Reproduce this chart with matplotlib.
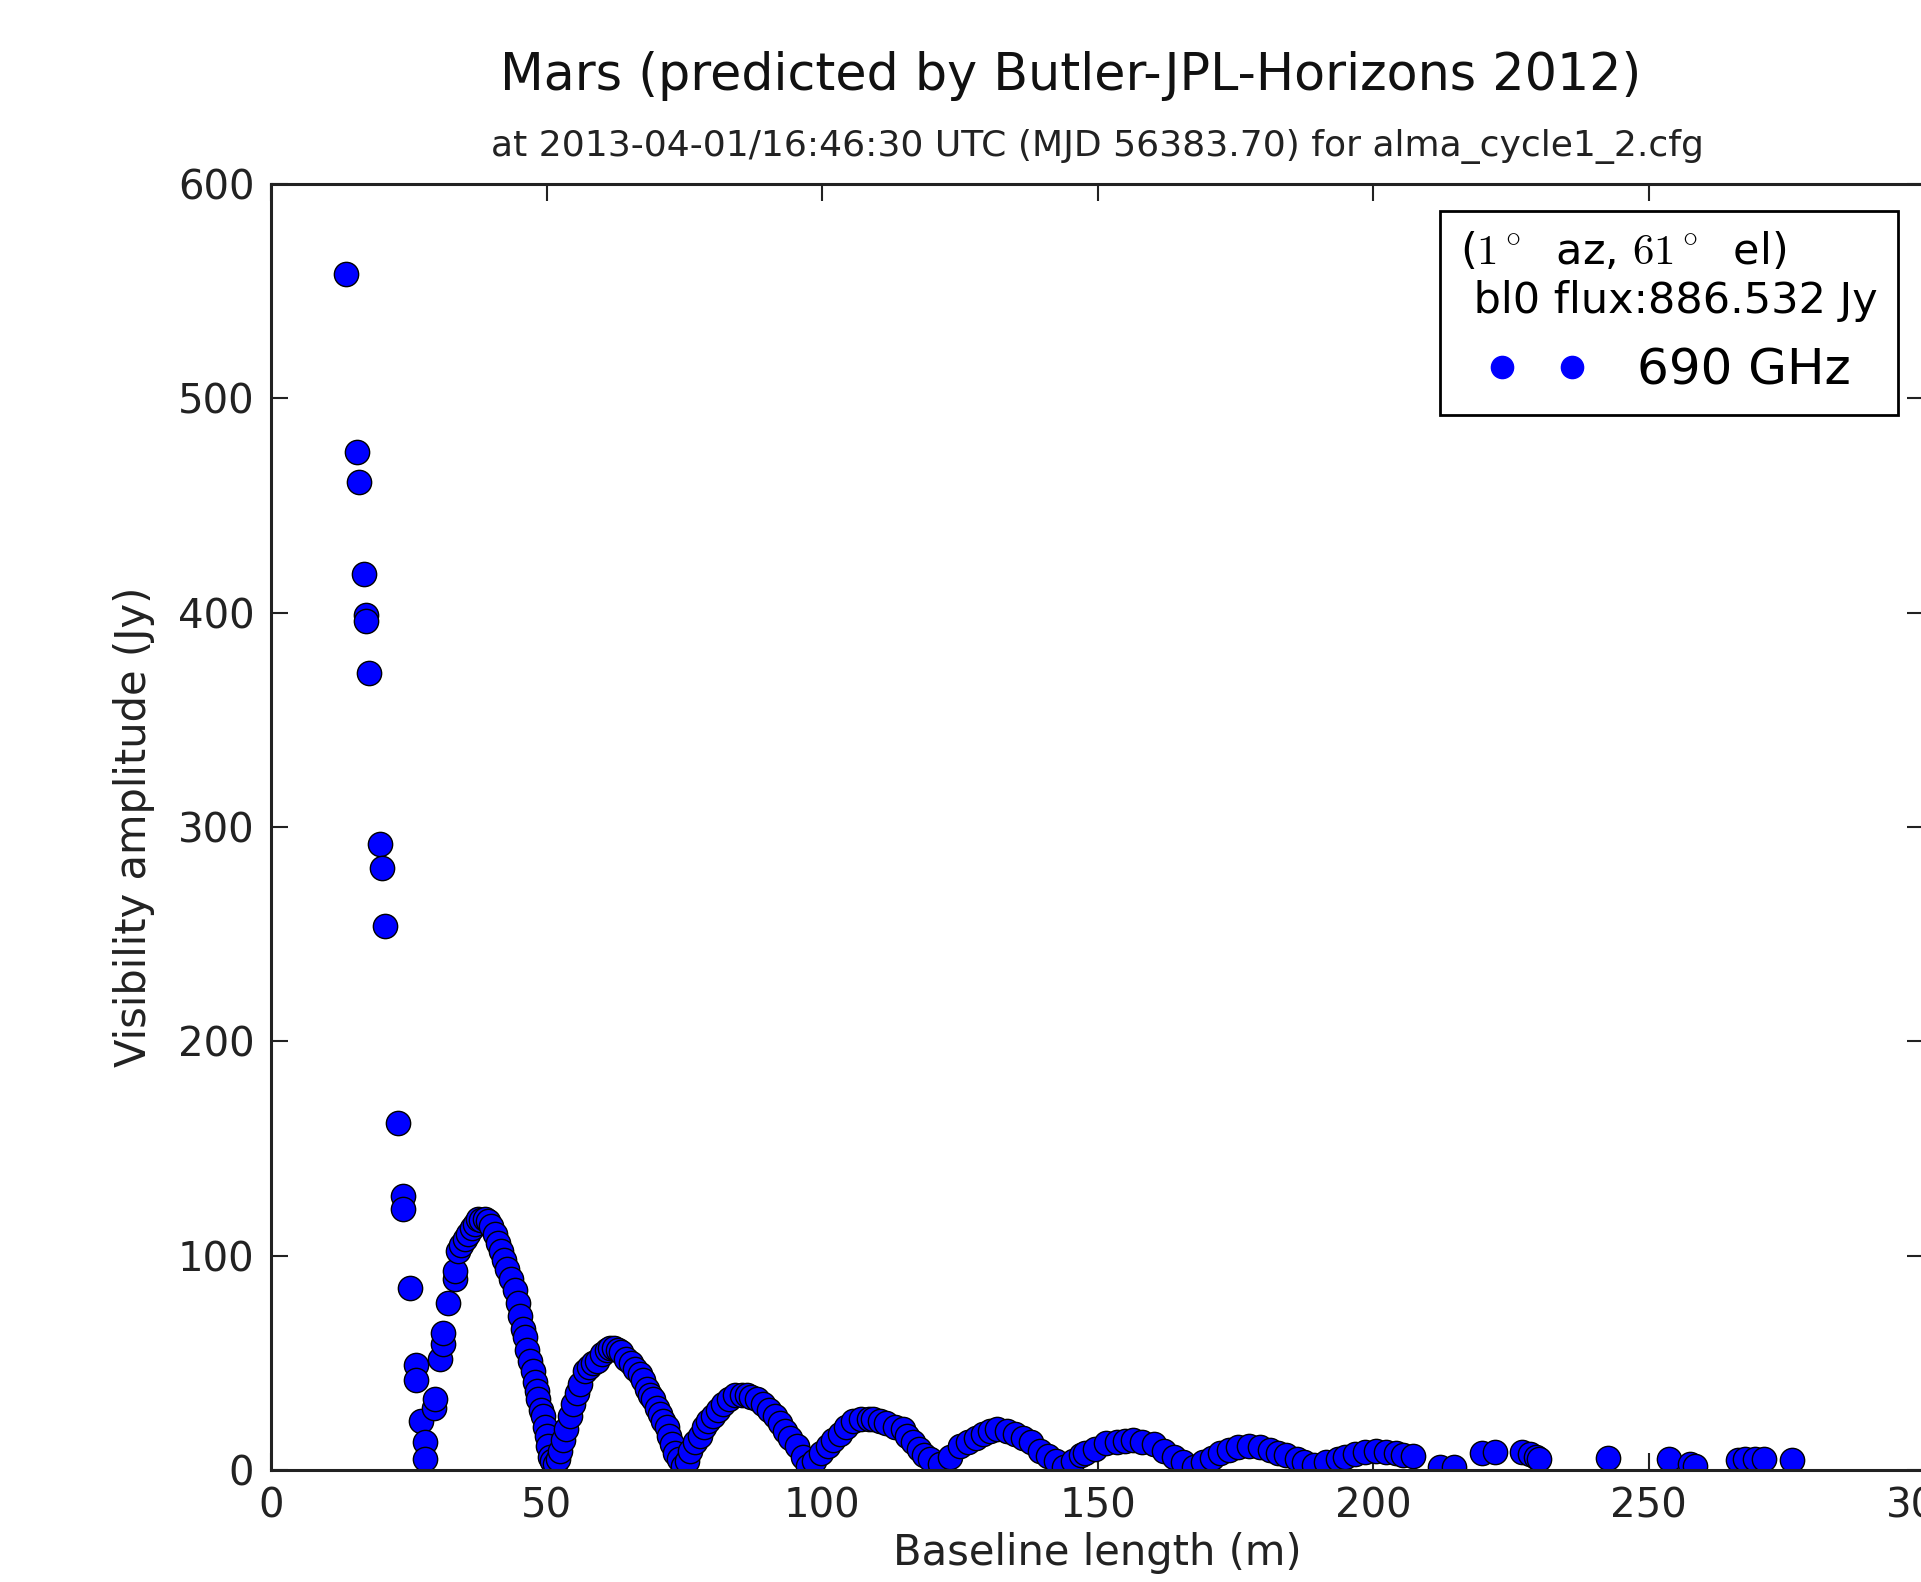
"""Mars visibility amplitude vs baseline length (690 GHz, alma_cycle1_2.cfg)."""
import matplotlib
matplotlib.use("Agg")
import matplotlib.pyplot as plt

plt.rcParams["mathtext.fontset"] = "cm"

# baseline length (m), visibility amplitude (Jy)
baseline = [
    13.6, 15.6, 16.0, 16.9, 17.3, 17.3, 17.8, 19.8, 20.2, 20.7,
    23.1, 24.0, 24.0, 25.3, 26.4, 26.4, 27.3, 27.9, 27.9,
    29.5, 29.8, 30.7, 31.3, 31.3, 32.2, 33.4, 33.4, 34.0, 34.5,
    35.2, 35.8, 36.5, 37.0, 37.6, 38.2, 38.8, 39.4, 40.0, 40.6,
    41.2, 41.8, 42.3, 42.8, 43.5, 44.3, 44.8, 45.2, 45.7, 46.1,
    46.5, 47.0, 47.5, 47.9, 48.2, 48.5, 49.0, 49.4, 49.7, 50.0,
    50.3, 50.6, 51.0, 51.5, 52.0, 52.4, 53.0, 53.6, 54.2, 54.9,
    55.5, 56.1, 57.0, 57.8, 58.4, 59.1, 60.0, 61.0, 61.5, 62.3,
    63.0, 63.6, 64.5, 65.3, 66.0, 66.9, 67.5, 68.3, 68.8, 69.4,
    70.0, 70.6, 71.2, 71.8, 72.2, 72.7, 73.3, 74.0, 74.8, 75.5,
    76.0, 77.0, 77.8, 78.6, 79.4, 80.2, 81.2, 82.1, 83.2, 84.2,
    85.5, 86.3, 87.2, 88.2, 89.3, 90.3, 91.4, 92.3, 93.2, 94.2,
    95.4, 96.6, 97.5, 98.5, 99.9, 101.0, 102.0, 103.2, 104.4, 105.6,
    107.0, 108.5, 109.3, 110.5, 111.7, 113.2, 114.7, 115.5, 116.5, 117.6,
    118.6, 119.6, 121.5, 123.2, 125.0, 126.5, 128.0, 129.2, 130.5, 131.7,
    133.5, 135.0, 136.5, 137.9, 139.5, 141.0, 142.5, 144.0, 145.5, 147.0,
    147.8, 149.5, 151.5, 153.5, 155.0, 156.4, 158.0, 160.2, 162.0, 163.9,
    165.5, 167.6, 169.2, 170.7, 172.3, 173.8, 175.5, 177.5, 179.5, 181.3,
    182.8, 184.3, 186.2, 187.5, 189.3, 191.5, 193.6, 195.0, 196.7, 198.5,
    200.5, 202.3, 204.2, 205.5, 207.3, 212.2, 214.7, 219.7, 222.1, 227.1,
    228.5, 229.6, 230.2, 242.6, 253.8, 257.5, 258.5, 266.2, 267.5, 269.3,
    271.0, 276.0,
]
amplitude = [
    558, 475, 461, 418, 399, 396, 372, 292, 281, 254,
    162, 128, 122, 85, 49, 42, 23, 13, 5,
    29, 33, 52, 59, 64, 78, 89, 93, 102, 105,
    108, 110, 113, 115, 117, 116.5, 117, 116, 114, 110,
    106, 102, 98, 94, 89, 84, 78, 72, 66, 62,
    56, 51, 46, 41, 37, 33, 28, 25, 20, 16,
    11, 6, 4, 3, 5, 9, 14, 19, 25, 31,
    36, 40, 46, 48, 50, 51, 54, 56, 57, 57,
    56, 55, 52, 50, 47, 45, 42, 38, 35, 33,
    29, 26, 23, 20, 16, 12, 8, 5, 2, 4,
    9, 13, 16, 20, 23, 25, 28, 31, 33, 35,
    35, 35, 34, 33, 31, 28, 25, 22, 18, 15,
    11, 6, 2, 4, 8, 11, 14, 17, 20, 23,
    24, 24, 24, 23, 22, 20, 19, 16, 13, 10,
    7, 5, 3, 6, 11, 13, 15, 17, 18, 19,
    18, 17, 15, 13, 9, 6.5, 4, 1.5, 4, 7,
    8, 10, 12.5, 13, 13.5, 14, 13, 12, 9, 6,
    3.5, 1.5, 3.5, 5.5, 8, 9.5, 10.5, 11, 10.5, 9.5,
    8, 7, 5, 3.5, 2.3, 3.5, 5, 6, 7.5, 8.5,
    9, 8.6, 8, 7, 6.5, 1.5, 1.5, 7.8, 8.6, 8.6,
    7.5, 6.2, 5, 5.5, 5, 2.8, 1.8, 4.5, 5, 5.2,
    5.2, 4.5,
]

freq_label = "690 GHz"
legend_title = r"($1^\circ$  az, $61^\circ$  el)" + "\n bl0 flux:886.532 Jy"


def main() -> None:
    fig = plt.figure(figsize=(19.21, 15.82), dpi=100)
    ax = fig.add_axes([271 / 1921, 112 / 1582, 1653 / 1921, 1286 / 1582])

    ax.plot(baseline, amplitude, "o", color="blue", mec="black", mew=1.0,
            ms=17.5, label=freq_label)

    ax.set_xlim(0, 300)
    ax.set_ylim(0, 600)
    ax.set_xticks(range(0, 301, 50))
    ax.set_yticks(range(0, 601, 100))
    ax.tick_params(direction="in", length=12, width=1.5, labelsize=29,
                   pad=12, top=True, right=True, colors="#222222")
    for sp in ax.spines.values():
        sp.set_linewidth(2.2)
        sp.set_color("#222222")

    ax.set_xlabel("Baseline length (m)", fontsize=30, labelpad=4, color="#222222")
    ax.set_ylabel("Visibility amplitude (Jy)", fontsize=30, labelpad=16, color="#222222")
    ax.set_title("at 2013-04-01/16:46:30 UTC (MJD 56383.70) for alma_cycle1_2.cfg",
                 fontsize=26, pad=20, color="#222222")
    fig.text(1071 / 1921, 1 - 76 / 1582, "Mars (predicted by Butler-JPL-Horizons 2012)",
             fontsize=36.5, ha="center", va="center", color="#111111")

    leg = ax.legend(loc="upper right", bbox_to_anchor=(0.984, 0.979), borderaxespad=0,
                    numpoints=2, handlelength=2.0, handletextpad=1.0,
                    fancybox=False, framealpha=1, edgecolor="black",
                    title=legend_title, title_fontsize=31,
                    prop={"size": 36})
    leg.get_frame().set_linewidth(2.0)
    leg.get_title().set_multialignment("left")
    for h in leg.legend_handles:
        h.set_markeredgecolor("blue")
        h.set_markersize(16)

    fig.savefig("out.png", dpi=100)


if __name__ == "__main__":
    main()
